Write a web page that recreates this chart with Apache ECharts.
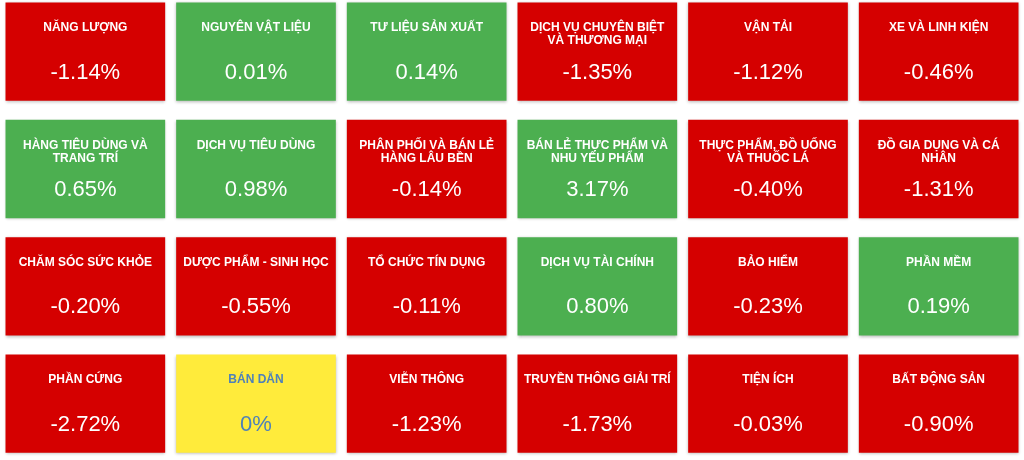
<!DOCTYPE html>
<html>
<head>
<meta charset="utf-8">
<script src="https://cdn.jsdelivr.net/npm/echarts@6/dist/echarts.min.js"></script>
<style>
  html, body { margin: 0; padding: 0; background: #ffffff; }
  #chart { width: 1024px; height: 460px; }
</style>
</head>
<body>
<div id="chart"></div>
<script>
// Sector names, laid out row by row (6 tiles per row)
const sectorNames = [
  'NĂNG LƯỢNG', 'NGUYÊN VẬT LIỆU', 'TƯ LIỆU SẢN XUẤT',
  'DỊCH VỤ CHUYÊN BIỆT\nVÀ THƯƠNG MẠI', 'VẬN TẢI', 'XE VÀ LINH KIỆN',
  'HÀNG TIÊU DÙNG VÀ\nTRANG TRÍ', 'DỊCH VỤ TIÊU DÙNG', 'PHÂN PHỐI VÀ BÁN LẺ\nHÀNG LÂU BỀN',
  'BÁN LẺ THỰC PHẨM VÀ\nNHU YẾU PHẨM', 'THỰC PHẨM, ĐỒ UỐNG\nVÀ THUỐC LÁ', 'ĐỒ GIA DỤNG VÀ CÁ\nNHÂN',
  'CHĂM SÓC SỨC KHỎE', 'DƯỢC PHẨM - SINH HỌC', 'TỔ CHỨC TÍN DỤNG',
  'DỊCH VỤ TÀI CHÍNH', 'BẢO HIỂM', 'PHẦN MỀM',
  'PHẦN CỨNG', 'BÁN DẪN', 'VIỄN THÔNG',
  'TRUYỀN THÔNG GIẢI TRÍ', 'TIỆN ÍCH', 'BẤT ĐỘNG SẢN'
];

// Daily change of each sector, in percent
const sectorChanges = [
  -1.14, 0.01, 0.14, -1.35, -1.12, -0.46,
  0.65, 0.98, -0.14, 3.17, -0.40, -1.31,
  -0.20, -0.55, -0.11, 0.80, -0.23, 0.19,
  -2.72, 0, -1.23, -1.73, -0.03, -0.90
];

// Tiles per row
const COLS = 6;

const UP = '#4caf50';
const DOWN = '#d50000';
const FLAT = '#ffeb3b';
const FLAT_TEXT = '#4f81b8';

const tiles = sectorChanges.map((v, i) => [i % COLS, Math.floor(i / COLS), v]);

function formatChange(v) {
  return v === 0 ? '0%' : v.toFixed(2) + '%';
}

function renderItem(params, api) {
  const center = api.coord([api.value(0), api.value(1)]);
  const cell = api.size([1, 1]);
  const w = cell[0] - 11;
  const h = cell[1] - 19;
  const x = center[0] - w / 2;
  const y = center[1] - h / 2;
  const v = api.value(2);
  const fill = v > 0 ? UP : (v < 0 ? DOWN : FLAT);
  const textColor = v === 0 ? FLAT_TEXT : '#ffffff';
  return {
    type: 'group',
    children: [
      {
        type: 'rect',
        shape: { x: x, y: y, width: w, height: h },
        style: {
          fill: fill,
          shadowBlur: 3,
          shadowOffsetY: 1,
          shadowColor: 'rgba(0,0,0,0.28)'
        }
      },
      {
        type: 'text',
        style: {
          x: center[0],
          y: y + 19,
          text: sectorNames[params.dataIndex],
          fill: textColor,
          font: 'bold 12px "Liberation Sans", Arial, sans-serif',
          lineHeight: 13,
          align: 'center',
          verticalAlign: 'top'
        }
      },
      {
        type: 'text',
        style: {
          x: center[0],
          y: y + 70,
          text: formatChange(v),
          fill: textColor,
          font: '22px "Liberation Sans", Arial, sans-serif',
          align: 'center',
          verticalAlign: 'middle'
        }
      }
    ]
  };
}

const chart = echarts.init(document.getElementById('chart'), null, { renderer: 'canvas' });
chart.setOption({
  animation: false,
  backgroundColor: '#ffffff',
  grid: { left: 0, right: 0, top: 0, bottom: 0 },
  xAxis: { type: 'value', min: -0.5, max: 5.5, show: false },
  yAxis: { type: 'value', min: -0.44, max: 3.48, inverse: true, show: false },
  series: [{
    type: 'custom',
    renderItem: renderItem,
    data: tiles,
    encode: { x: 0, y: 1 },
    clip: false
  }]
});
</script>
</body>
</html>
